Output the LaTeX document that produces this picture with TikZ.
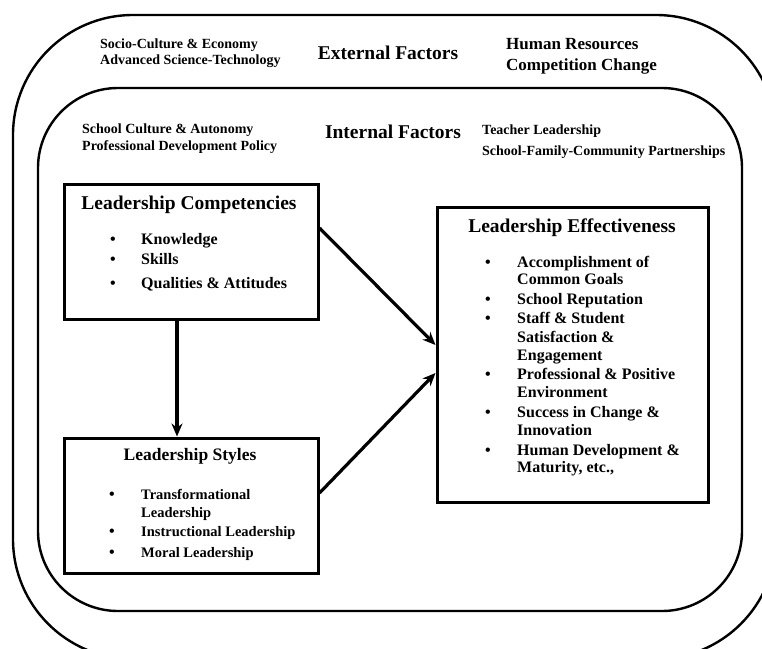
\documentclass[tikz,border=0pt]{standalone}
\usepackage{fontspec}
\setmainfont{Liberation Serif}
\usetikzlibrary{arrows.meta}

\tikzset{
  frame/.style={line width=2.4pt},
  box/.style={draw, line width=3pt, inner sep=0pt},
  link/.style={line width=3.2pt, -{Stealth[length=13pt, width=11pt]}},
  factor/.style={anchor=base west, inner sep=0pt, font=\fontsize{14}{16}\selectfont\bfseries},
  bigfactor/.style={factor, font=\fontsize{17}{20}\selectfont\bfseries},
  heading/.style={anchor=base, inner sep=0pt, font=\fontsize{19.5}{22}\selectfont\bfseries},
  entry/.style={anchor=base west, inner sep=0pt, font=\fontsize{16}{18}\selectfont\bfseries},
  smallentry/.style={entry, font=\fontsize{14.5}{17}\selectfont\bfseries},
  bul/.style={anchor=base, inner sep=0pt, font=\fontsize{16}{18}\selectfont\bfseries},
}

\begin{document}
\begin{tikzpicture}[x=1pt, y=-1pt]
  \useasboundingbox (0,0) rectangle (762,648);
  \clip (0,0) rectangle (762,648);

  % frames
  % external frame
  \draw[frame, rounded corners=120pt] (13,15) rectangle (776,659);
  % internal frame
  \draw[frame, rounded corners=80pt] (38,88) rectangle (742,611);

  % external factors
  \node[factor] (ext1) at (100,48) {Socio-Culture \& Economy};
  \node[factor] (ext2) at (100,64) {Advanced Science-Technology};
  \node[heading] (ext) at (388,59) {External Factors};
  \node[bigfactor] (ext3) at (506,49) {Human Resources};
  \node[bigfactor] (ext4) at (506,70) {Competition Change};

  % internal factors
  \node[factor] (int1) at (82,133) {School Culture \& Autonomy};
  \node[factor] (int2) at (82,150) {Professional Development Policy};
  \node[heading] (int) at (393,138) {Internal Factors};
  \node[factor] (int3) at (482,134) {Teacher Leadership};
  \node[factor] (int4) at (482,155) {School-Family-Community Partnerships};

  % boxes
  \node[box, minimum width=254pt, minimum height=135pt] (comp) at (191,251.5) {};
  \node[box, minimum width=254pt, minimum height=135pt] (styles) at (191,505.5) {};
  \node[box, minimum width=271pt, minimum height=295pt] (effect) at (572.5,354.5) {};

  % competencies
  \node[heading] (comptitle) at (189,209) {Leadership Competencies};
  \foreach \txt/\yy [count=\i] in {Knowledge/244, Skills/264, Qualities \& Attitudes/288} {
    \node[bul] (cb\i) at (113,\yy) {\textbullet};
    \node[entry] (ce\i) at (141,\yy) {\txt};
  }

  % styles
  \node[heading, font=\fontsize{17.5}{20}\selectfont\bfseries] (stytitle) at (190,460) {Leadership Styles};
  \foreach \txt/\yy [count=\i] in {Transformational/499, Leadership/517,
      Instructional Leadership/536, Moral Leadership/557}
    \node[smallentry] (se\i) at (141,\yy) {\txt};
  \foreach \yy [count=\i] in {499,536,557}
    \node[bul] (sb\i) at (112,\yy) {\textbullet};

  % effectiveness
  \node[heading] (efftitle) at (572,232) {Leadership Effectiveness};
  \foreach \txt/\yy [count=\i] in {Accomplishment of/267, Common Goals/284,
      School Reputation/304, Staff \& Student/323, Satisfaction \&/342,
      Engagement/360, Professional \& Positive/379, Environment/397,
      Success in Change \&/417, Innovation/435, Human Development \&/455,
      {Maturity, etc.,}/472}
    \node[entry] (ee\i) at (517,\yy) {\txt};
  \foreach \yy [count=\i] in {267,304,323,379,417,455}
    \node[bul] (eb\i) at (488,\yy) {\textbullet};

  % links
  \draw[link] ([yshift=23.5pt]comp.east) -- ([yshift=9.5pt]effect.west);
  \draw[link] ([yshift=12.5pt]styles.east) -- ([yshift=-18.5pt]effect.west);
  \draw[link] ([xshift=-14pt]comp.south) -- ([xshift=-14pt]styles.north);
\end{tikzpicture}
\end{document}
